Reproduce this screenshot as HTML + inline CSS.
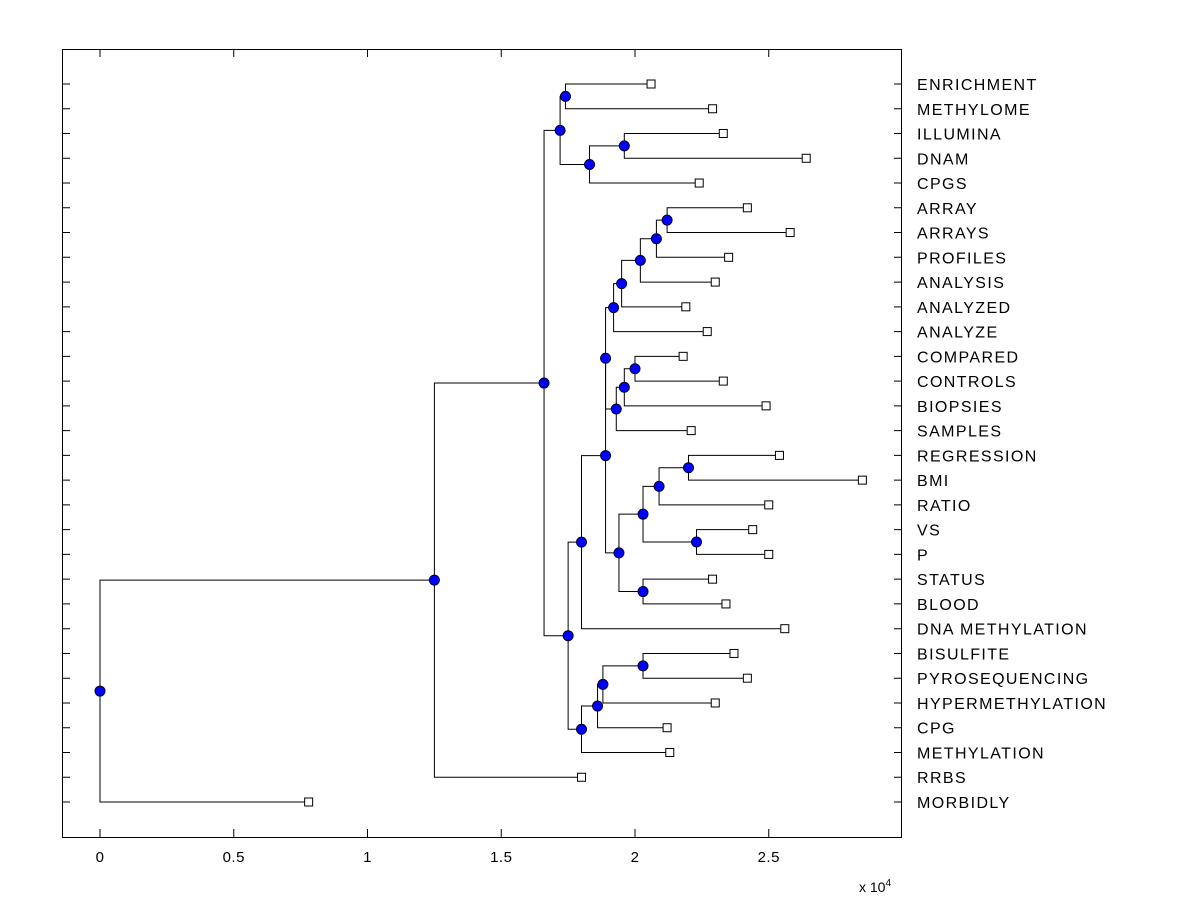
<!DOCTYPE html>
<html><head><meta charset="utf-8"><style>
html,body{margin:0;padding:0;background:#fff;}
svg{display:block;font-family:"Liberation Sans",Arial,sans-serif;}
</style></head><body>
<svg id="chart" width="1200" height="900" xmlns="http://www.w3.org/2000/svg">
<rect x="0" y="0" width="1200" height="900" fill="#fff"/>
<g id="marks"></g>
<rect x="62.5" y="49.5" width="839" height="788" fill="none" stroke="#000" stroke-width="1"/>
<g id="axes"></g>
<text x="859" y="892" font-size="14">x 10<tspan dy="-6" font-size="10">4</tspan></text>
</svg>
<script>
const leafNames = ["ENRICHMENT","METHYLOME","ILLUMINA","DNAM","CPGS","ARRAY","ARRAYS","PROFILES","ANALYSIS","ANALYZED","ANALYZE","COMPARED","CONTROLS","BIOPSIES","SAMPLES","REGRESSION","BMI","RATIO","VS","P","STATUS","BLOOD","DNA METHYLATION","BISULFITE","PYROSEQUENCING","HYPERMETHYLATION","CPG","METHYLATION","RRBS","MORBIDLY"];
const leafValues = [2.06,2.29,2.33,2.64,2.24,2.42,2.58,2.35,2.30,2.19,2.27,2.18,2.33,2.49,2.21,2.54,2.85,2.50,2.44,2.50,2.29,2.34,2.56,2.37,2.42,2.30,2.12,2.13,1.80,0.78];
const nodeChildren = [
 ["L0","L1"],["L2","L3"],["N1","L4"],["N0","N2"],
 ["L5","L6"],["N4","L7"],["N5","L8"],["N6","L9"],["N7","L10"],
 ["L11","L12"],["N9","L13"],["N10","L14"],["N8","N11"],
 ["L15","L16"],["N13","L17"],["L18","L19"],["N14","N15"],["L20","L21"],["N16","N17"],
 ["N12","N18"],["N19","L22"],
 ["L23","L24"],["N21","L25"],["N22","L26"],["N23","L27"],
 ["N20","N24"],["N3","N25"],["N26","L28"],["N27","L29"]
];
const nodeHeights = [1.74,1.96,1.83,1.72,2.12,2.08,2.02,1.95,1.92,2.00,1.96,1.93,1.89,2.20,2.09,2.23,2.03,2.03,1.94,1.89,1.80,2.03,1.88,1.86,1.80,1.75,1.66,1.25,0];
const xTicks = [0,0.5,1,1.5,2,2.5];
const xTickLabels = ["0","0.5","1","1.5","2","2.5"];

const NS="http://www.w3.org/2000/svg";
const X0=100, XS=267.5, Y0=84, YS=(802-84)/29;
const xs=v=>X0+v*XS;
const ys=i=>Y0+i*YS;
const marks=document.getElementById('marks'), axes=document.getElementById('axes');
function mk(tag,attrs,parent){const e=document.createElementNS(NS,tag);for(const k in attrs)e.setAttribute(k,attrs[k]);parent.appendChild(e);return e;}
function pos(id){
  if(id[0]==='L'){const i=+id.slice(1);return {x:xs(leafValues[i]),y:ys(i)};}
  const n=+id.slice(1);const a=pos(nodeChildren[n][0]),b=pos(nodeChildren[n][1]);
  return {x:xs(nodeHeights[n]),y:(a.y+b.y)/2};
}
const lines=mk('g',{},marks);
const dots=mk('g',{},marks);
nodeChildren.forEach((c,n)=>{
  const p=pos('N'+n),a=pos(c[0]),b=pos(c[1]);
  const path=mk('path',{d:`M${a.x},${a.y}H${p.x}V${b.y}H${b.x}`,fill:'none',stroke:'#000','stroke-width':1},lines);
  
  
  const d=mk('circle',{cx:p.x,cy:p.y,r:5,fill:'#0000ff',stroke:'#000022','stroke-width':1},dots);
  
  
});
leafNames.forEach((nm,i)=>{
  const x=xs(leafValues[i]),y=ys(i);
  const s=mk('rect',{x:x-4,y:y-4,width:8,height:8,fill:'#fff',stroke:'#000','stroke-width':1},dots);
  
  
  const t=mk('text',{x:917,y:y+6,'font-size':16,'letter-spacing':1.4},axes);
  t.textContent=nm;
  
  
  const tl=mk('path',{d:`M62,${y}h8M902,${y}h-8`,stroke:'#000','stroke-width':1},axes);
  
  
});
xTicks.forEach((v,i)=>{
  const x=xs(v);
  const tk=mk('path',{d:`M${x},837v-8M${x},49v8`,stroke:'#000','stroke-width':1},axes);
  
  
  const t=mk('text',{x:x,y:862,'font-size':15,'text-anchor':'middle','letter-spacing':0.5},axes);
  t.textContent=xTickLabels[i];
  
  
});
</script>
</body></html>
